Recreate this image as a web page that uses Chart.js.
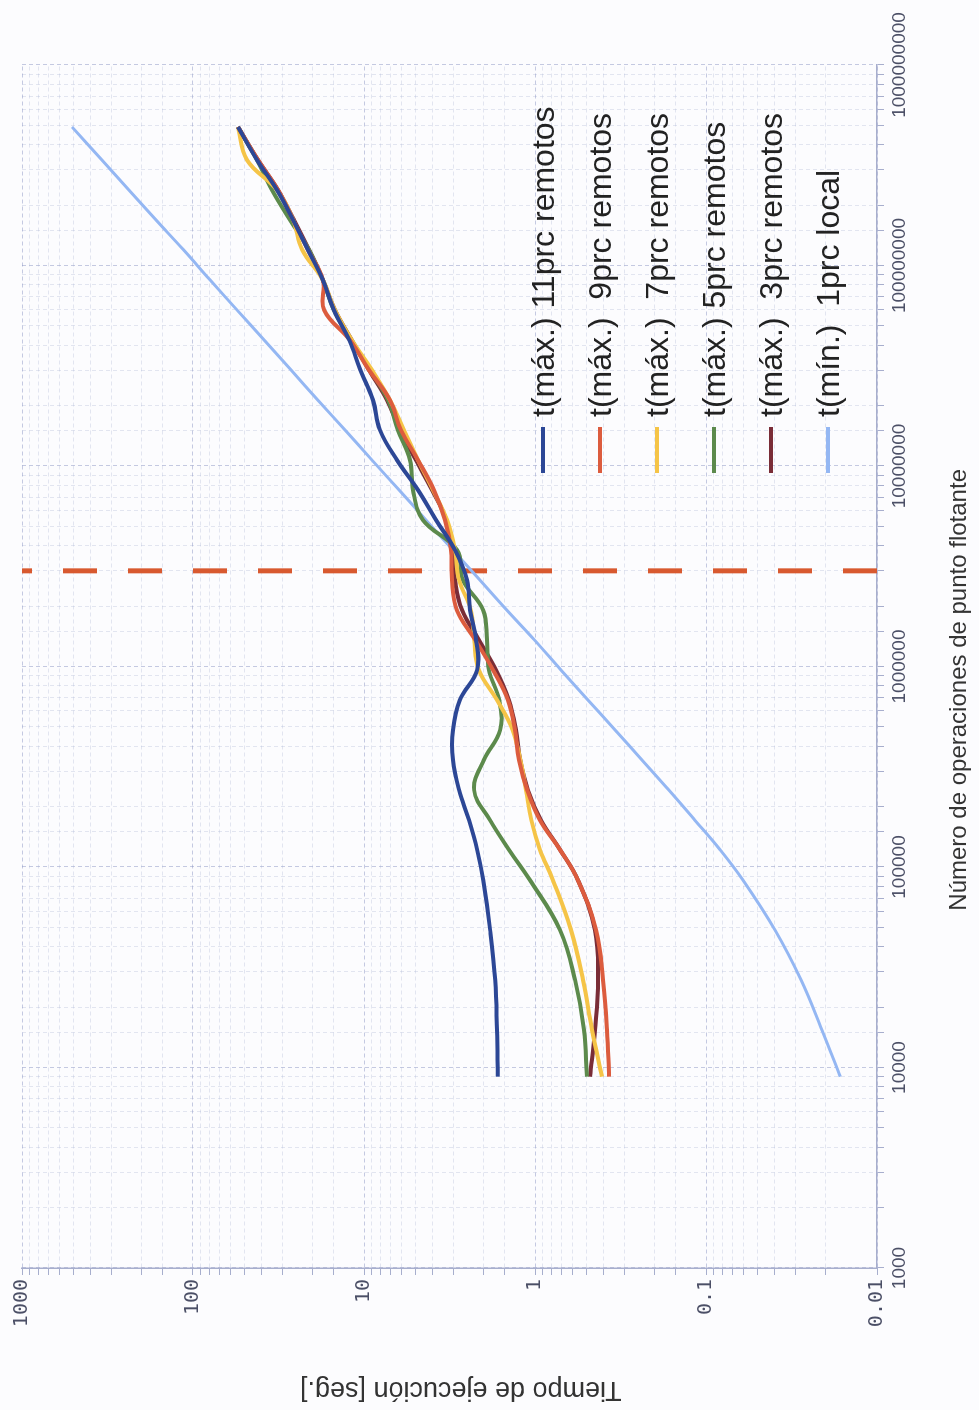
<!DOCTYPE html>
<html>
<head>
<meta charset="utf-8">
<script src="https://cdn.jsdelivr.net/npm/chart.js@4.4.1/dist/chart.umd.min.js"></script>
<style>
  html, body { margin: 0; padding: 0; width: 979px; height: 1410px; overflow: hidden; background: #fcfcfe; }
  /* the reference is the chart turned a quarter turn to the left */
  #wrap { position: absolute; left: 0; top: 0; width: 1410px; height: 979px;
          transform-origin: 0 0; transform: translate(0, 1410px) rotate(-90deg); }
  #chart { position: absolute; left: 0; top: 0; }
  #legend { position: absolute; left: 937px; top: 0; }
  .item { position: absolute; left: 0; height: 40px; display: flex; align-items: center;
          white-space: pre; font: 32px "Liberation Sans", Arial, sans-serif; color: #222; }
  .item i { display: inline-block; width: 46px; height: 4px; margin-right: 10px; }
</style>
</head>
<body>
<div id="wrap">
  <canvas id="chart" width="1410" height="979"></canvas>
  <div id="legend"></div>
</div>
<script>
// operaciones de punto flotante (eje x)
const ops = [9000, 15400, 27300, 48500, 86000, 122000, 171000, 242000, 342000, 482000,
  681000, 961000, 1360000, 1910000, 2700000, 3810000, 5380000, 7590000, 10700000, 15100000,
  21300000, 30100000, 42500000, 60000000, 84700000, 120000000, 169000000, 238000000, 336000000, 491000000];

// tiempos en segundos
const t11 = [1.65, 1.67, 1.71, 1.83, 2.01, 2.18, 2.43, 2.78, 3.02, 3.02,
  2.75, 2.18, 2.21, 2.40, 2.50, 2.94, 3.79, 4.83, 6.41, 8.06,
  8.86, 10.5, 12.2, 15.0, 17.4, 21.3, 26.0, 32.3, 42.2, 54.6];
const t9 = [0.369, 0.379, 0.400, 0.440, 0.561, 0.714, 0.935, 1.11, 1.24, 1.31,
  1.44, 1.76, 2.24, 2.86, 3.06, 3.10, 3.36, 3.90, 4.83, 6.08,
  7.05, 9.35, 12.1, 17.1, 17.4, 21.3, 26.0, 31.8, 41.7, 54.6];
const t7 = [0.406, 0.464, 0.524, 0.616, 0.785, 0.935, 1.05, 1.13, 1.22, 1.35,
  1.67, 2.13, 2.27, 2.37, 2.78, 2.94, 3.27, 3.95, 4.83, 5.84,
  7.05, 8.98, 11.8, 14.8, 17.4, 23.0, 26.0, 32.3, 48.3, 54.6];
const t5 = [0.497, 0.517, 0.583, 0.714, 1.07, 1.42, 1.83, 2.27, 1.99, 1.60,
  1.62, 1.86, 1.91, 2.01, 2.64, 2.86, 4.52, 5.17, 5.38, 6.33,
  7.24, 9.23, 11.9, 15.0, 17.4, 21.0, 27.1, 34.5, 42.2, 54.6];
const t3 = [0.477, 0.446, 0.428, 0.446, 0.561, 0.714, 0.922, 1.10, 1.22, 1.29,
  1.42, 1.69, 2.13, 2.67, 2.94, 3.06, 3.30, 4.00, 4.97, 6.16,
  7.33, 9.35, 11.8, 14.8, 17.4, 21.0, 25.7, 31.8, 41.7, 54.6];
const t1 = [0.0164, 0.0210, 0.0278, 0.0395, 0.0608, 0.0828, 0.116, 0.165, 0.237, 0.340,
  0.490, 0.705, 1.01, 1.46, 2.10, 3.02, 4.34, 6.24, 8.98, 12.9,
  18.6, 26.7, 38.4, 55.3, 79.5, 114, 165, 237, 341, 510];

const limitOps = 3000000;

const labels = ['t(máx.) 11prc remotos', 't(máx.)  9prc remotos', 't(máx.)  7prc remotos',
  't(máx.) 5prc remotos', 't(máx.)  3prc remotos', 't(mín.)  1prc local'];
const colors = ['#2c4796', '#dc5c3e', '#f5c447', '#5c8a4c', '#7a2d37', '#94b7f3'];
const widths = [4, 4, 4, 4, 4, 3];
const series = [t11, t9, t7, t5, t3, t1];

const datasets = series.map((s, i) => ({
  label: labels[i],
  data: ops.map((x, j) => ({ x: x, y: s[j] })),
  borderColor: colors[i],
  borderWidth: widths[i],
  pointRadius: 0,
  tension: 0.4,
  fill: false
}));
datasets.push({
  label: 'límite',
  data: [{ x: limitOps, y: 0.01 }, { x: limitOps, y: 1000 }],
  borderColor: '#d8592f',
  borderWidth: 5,
  borderDash: [34, 31],
  pointRadius: 0
});

const isDecade = v => Math.abs(Math.log10(v) - Math.round(Math.log10(v))) < 1e-9;
const gridColor = c => (c.tick && isDecade(c.tick.value)) ? 'rgba(140,150,195,0.5)' : 'rgba(165,175,210,0.3)';

new Chart(document.getElementById('chart'), {
  type: 'line',
  data: { datasets: datasets },
  options: {
    responsive: false,
    animation: false,
    layout: { padding: { top: 22, right: 65, bottom: 0, left: 0 } },
    plugins: { legend: { display: false }, tooltip: { enabled: false } },
    scales: {
      x: {
        type: 'logarithmic',
        min: 1000,
        max: 1000000000,
        afterFit: s => { s.height = 102; },
        grid: { color: gridColor, tickLength: 7, tickColor: '#a7aecd' },
        border: { color: '#a7aecd', width: 1.5, dash: [4, 3] },
        ticks: {
          autoSkip: false, maxRotation: 0, minRotation: 0, padding: 4,
          color: '#4b4f66',
          font: { family: 'Liberation Sans', size: 19 },
          callback: v => isDecade(v) ? String(Math.round(v)) : ''
        },
        title: {
          display: true,
          text: 'Número de operaciones de punto flotante       ',
          color: '#333',
          font: { family: 'Liberation Sans', size: 24 },
          padding: { top: 0, bottom: 5 }
        }
      },
      y: {
        type: 'logarithmic',
        min: 0.01,
        max: 1000,
        afterFit: s => { s.width = 142; },
        grid: { color: gridColor, tickLength: 7, tickColor: '#a7aecd' },
        border: { color: '#a7aecd', width: 1.5, dash: [4, 3] },
        ticks: {
          autoSkip: false, padding: 4,
          color: '#4b4f66',
          font: { family: 'DejaVu Sans Mono', size: 20 },
          callback: v => isDecade(v) ? String(v) : ''
        },
        title: {
          display: true,
          text: 'Tiempo de ejecución [seg.]   ',
          color: '#333',
          font: { family: 'Liberation Sans', size: 27 },
          padding: { top: 4, bottom: 0 }
        }
      }
    }
  }
});

// leyenda dentro del área de trazado
const legend = document.getElementById('legend');
labels.forEach((text, i) => {
  const row = document.createElement('div');
  row.className = 'item';
  row.style.top = (523 + i * 57) + 'px';
  const mark = document.createElement('i');
  mark.style.background = colors[i];
  row.appendChild(mark);
  row.appendChild(document.createTextNode(text));
  legend.appendChild(row);
});
</script>
</body>
</html>
